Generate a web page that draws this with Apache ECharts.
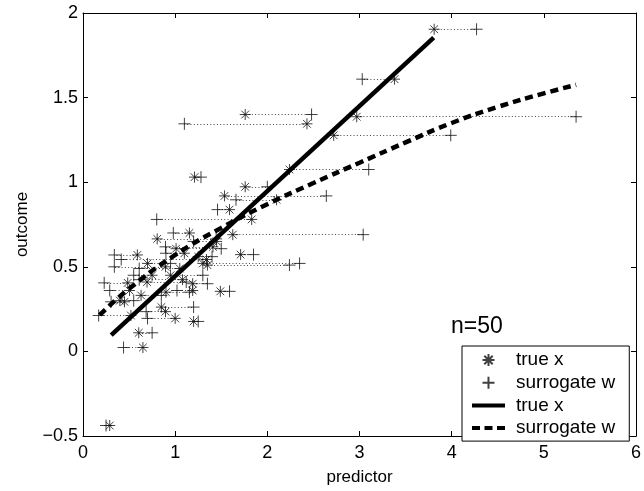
<!DOCTYPE html>
<html>
<head>
<meta charset="utf-8">
<script src="https://cdn.jsdelivr.net/npm/echarts@6/dist/echarts.min.js"></script>
<style>html,body{margin:0;padding:0;background:#fff;}#c{width:644px;height:491px;}</style>
</head>
<body>
<div id="c"></div>
<script>
// ---- data ----
const trueX = [3.81, 3.38, 1.76, 2.43, 2.97, 2.72, 2.24, 1.21, 1.76, 1.535,
  2.10, 1.59, 1.83, 1.625, 1.155, 0.805, 1.41, 1.01, 0.59, 1.71,
  1.34, 1.35, 1.30, 0.895, 1.05, 0.485, 0.505, 1.08, 0.95, 0.695,
  0.90, 1.49, 1.19, 1.19, 0.45, 0.63, 0.52, 0.895, 0.85, 1.00,
  1.20, 0.605, 0.65, 0.29, 0.75, 1.45, 1.25, 0.40, 1.10, 0.70];
const surrogateW = [4.27, 3.03, 2.48, 1.10, 5.35, 3.99, 3.10, 1.28, 2.00, 2.64,
  1.66, 1.46, 0.80, 3.04, 0.98, 1.445, 0.895, 1.50, 0.34, 1.85,
  0.415, 2.24, 2.35, 0.34, 0.61, 0.23, 0.29, 0.61, 1.30, 1.12,
  1.155, 1.59, 1.35, 1.02, 0.305, 0.85, 0.17, 0.685, 1.20, 0.70,
  1.25, 0.75, 0.44, 0.25, 0.55, 1.20, 1.40, 0.55, 0.90, 0.95];
const outcome = [1.904, 1.609, 1.400, 1.345, 1.387, 1.277, 1.075, 1.030, 0.973, 0.919,
  0.896, 0.838, 0.780, 0.690, 0.700, 0.665, 0.618, 0.607, 0.570, 0.572,
  0.543, 0.510, 0.520, 0.500, 0.490, 0.405, 0.360, 0.424, 0.450, 0.410,
  0.350, 0.355, 0.400, 0.360, 0.293, 0.331, 0.212, 0.235, 0.262, 0.195,
  0.177, 0.110, 0.023, -0.438, 0.450, 0.650, 0.560, 0.300, 0.580, 0.520];
const fitTrueX = [0.306, 3.805];
const fitTrueY = [0.096, 1.855];
const fitSurrX = [0.18, 0.5, 1.0, 1.5, 2.0, 2.5, 3.0, 3.5, 4.0, 4.5, 5.0, 5.35];
const fitSurrY = [0.215, 0.37, 0.57, 0.73, 0.87, 0.995, 1.115, 1.235, 1.35, 1.445, 1.525, 1.575];
const xTickLabels = ['0', '1', '2', '3', '4', '5', '6'];
const yTickLabels = ['\u22120.5', '0', '0.5', '1', '1.5', '2'];
const seriesNames = ['true x', 'surrogate w', 'true x fit', 'surrogate w fit'];
const annotation = 'n=50';

// ---- chart ----
const FONT = 'Liberation Sans';
const asteriskPath = 'path://M5,0L5,10M0,5L10,5M1.5,1.5L8.5,8.5M8.5,1.5L1.5,8.5';
const plusPath = 'path://M5,0L5,10M0,5L10,5';
const solidIcon = 'path://M0,0L33,0L33,4L0,4Z';
const dashIcon = 'path://M0,0L8,0L8,4L0,4ZM12.5,0L20.5,0L20.5,4L12.5,4ZM25,0L33,0L33,4L25,4Z';

const chart = echarts.init(document.getElementById('c'), null, {renderer: 'canvas'});
const axisCommon = {
  axisLine: {show: true, onZero: false, lineStyle: {color: '#000', width: 1}},
  axisTick: {show: true, inside: true, length: 5, lineStyle: {color: '#000', width: 1}},
  splitLine: {show: false}
};
const option = {
  animation: false,
  backgroundColor: '#fff',
  textStyle: {fontFamily: FONT},
  title: {text: annotation, left: 451, top: 315, padding: 0,
    textStyle: {fontFamily: FONT, fontSize: 23, fontWeight: 'normal', color: '#000'}},
  grid: {left: 83, right: 8, top: 13, bottom: 46},
  xAxis: [
    Object.assign({type: 'value', min: 0, max: 6, interval: 1, position: 'bottom',
      name: 'predictor', nameLocation: 'middle', nameGap: 33,
      nameTextStyle: {fontFamily: FONT, fontSize: 17, color: '#000'},
      axisLabel: {fontFamily: FONT, fontSize: 18, color: '#000', margin: 8,
        formatter: v => xTickLabels[Math.round(v)]}}, axisCommon),
    Object.assign({type: 'value', min: 0, max: 6, interval: 1, position: 'top',
      axisLabel: {show: false}}, axisCommon)
  ],
  yAxis: [
    Object.assign({type: 'value', min: -0.5, max: 2, interval: 0.5, position: 'left',
      name: 'outcome', nameLocation: 'middle', nameGap: 52,
      nameTextStyle: {fontFamily: FONT, fontSize: 17, color: '#000'},
      axisLabel: {fontFamily: FONT, fontSize: 18, color: '#000', margin: 5,
        formatter: v => yTickLabels[Math.round((v + 0.5) / 0.5)]}}, axisCommon),
    Object.assign({type: 'value', min: -0.5, max: 2, interval: 0.5, position: 'right',
      axisLabel: {show: false}}, axisCommon)
  ],
  legend: {
    orient: 'vertical', left: 462, top: 346,
    padding: [4, 14, 3, 10],
    itemWidth: 33, itemHeight: 12, itemGap: 2.7,
    borderColor: '#000', borderWidth: 1, backgroundColor: '#fff',
    textStyle: {fontFamily: FONT, fontSize: 19, color: '#000', lineHeight: 20, padding: [0, 0, 0, 6]},
    formatter: name => name.replace(' fit', ''),
    data: [
      {name: seriesNames[0], icon: asteriskPath},
      {name: seriesNames[1], icon: plusPath},
      {name: seriesNames[2], icon: solidIcon},
      {name: seriesNames[3], icon: dashIcon}
    ],
    selectedMode: false
  },
  series: [
    {
      type: 'lines', coordinateSystem: 'cartesian2d', silent: true, z: 1,
      lineStyle: {color: '#222', width: 1, type: [1, 2.3], opacity: 0.85, curveness: 0},
      data: outcome.map((y, i) => ({coords: [[trueX[i], y], [surrogateW[i], y]]}))
    },
    {
      name: seriesNames[0], type: 'scatter', z: 3, silent: true,
      symbol: asteriskPath, symbolSize: 11,
      itemStyle: {color: 'transparent', borderColor: '#111', borderWidth: 1},
      data: trueX.map((x, i) => [x, outcome[i]])
    },
    {
      name: seriesNames[1], type: 'scatter', z: 3, silent: true,
      symbol: plusPath, symbolSize: 12,
      itemStyle: {color: 'transparent', borderColor: '#111', borderWidth: 1},
      data: surrogateW.map((w, i) => [w, outcome[i]])
    },
    {
      name: seriesNames[2], type: 'line', z: 4, silent: true, showSymbol: false,
      itemStyle: {color: '#000'},
      lineStyle: {color: '#000', width: 4.5, cap: 'butt'},
      data: fitTrueX.map((x, i) => [x, fitTrueY[i]])
    },
    {
      name: seriesNames[3], type: 'line', z: 4, silent: true, showSymbol: false, smooth: true,
      itemStyle: {color: '#000'},
      lineStyle: {color: '#000', width: 4.5, type: [8, 5], cap: 'butt'},
      data: fitSurrX.map((x, i) => [x, fitSurrY[i]])
    }
  ]
};
chart.setOption(option);
</script>
</body>
</html>
